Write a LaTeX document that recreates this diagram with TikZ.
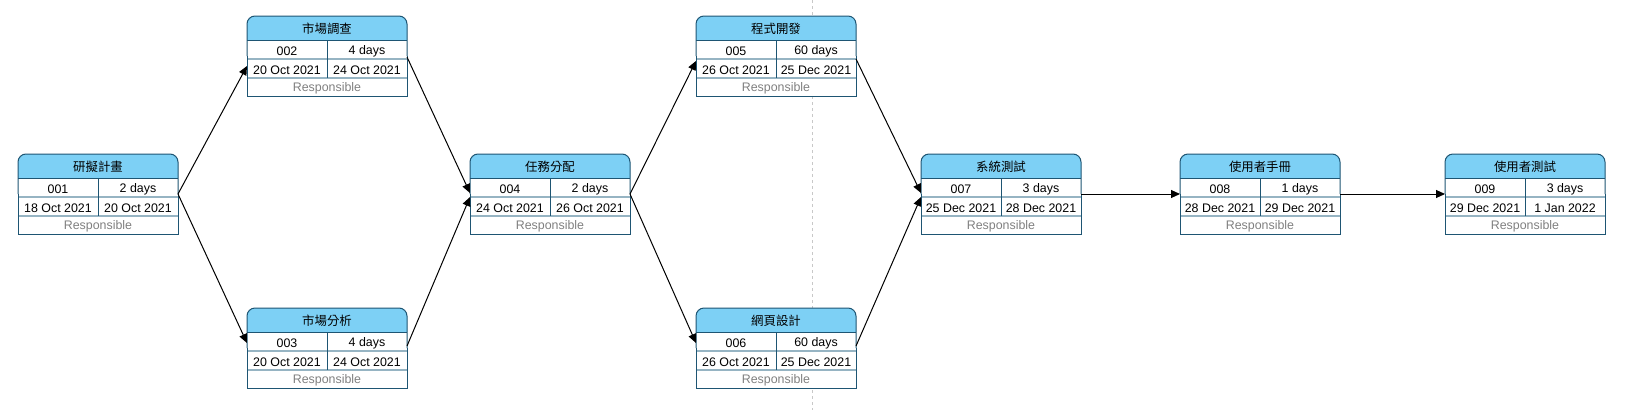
\documentclass[tikz,border=0pt]{standalone}
\usepackage{fontspec}
\setmainfont{Liberation Sans}
\newfontfamily\cjk{Noto Sans CJK TC}
\usetikzlibrary{calc,arrows.meta}
\definecolor{hdr}{RGB}{125,208,245}
\definecolor{bord}{RGB}{30,85,115}
\definecolor{sepc}{RGB}{150,180,195}
\definecolor{respc}{RGB}{128,128,128}
\definecolor{dashc}{RGB}{200,200,200}
\tikzset{
  boxanchor/.style={minimum width=160pt, minimum height=80pt, inner sep=0pt, outer sep=0pt},
  txt/.style={inner sep=0pt, font=\fontsize{12.4}{14}\selectfont},
  resptxt/.style={txt, text=respc},
  bline/.style={draw=bord, line width=1pt},
  sline/.style={draw=sepc, line width=1.2pt},
  conn/.style={draw=black, line width=1pt, -{Triangle[length=9pt,width=8pt]}},
  divider/.style={draw=dashc, line width=1pt, dash pattern=on 3pt off 3pt}
}
\newcommand{\pertbox}[8]{%
\begin{scope}[shift={(#2,#3)}]
  \node[boxanchor] (#1) at (80,40) {};
  \fill[white, rounded corners=8pt] (0,80) -- (0,0) -- (160,0) -- (160,80);
  \fill[hdr, rounded corners=8pt] (0,24) -- (0,0) -- (160,0) -- (160,24);
  \draw[sline] (0,43) -- (160,43) (0,62) -- (160,62);
  \draw[bline] (80,24) -- (80,62);
  \draw[bline] (0,24) -- (160,24);
  \draw[bline, rounded corners=8pt] (0,40) -- (0,0) -- (160,0) -- (160,40);
  \draw[bline] (0,40) -- (0,80) -- (160,80) -- (160,40);
  \node[txt] (#1-title) at (80,13) {\cjk #4};
  \node[txt] (#1-id) at (40,35) {#5};
  \node[txt] (#1-dur) at (120,35) {#6};
  \node[txt] (#1-start) at (40,54) {#7};
  \node[txt] (#1-end) at (120,54) {#8};
  \node[resptxt] (#1-resp) at (80,72.5) {Responsible};
\end{scope}}
\begin{document}
\begin{tikzpicture}[x=1pt, y=-1pt]
\useasboundingbox (0,0) rectangle (1628,410);
\draw[divider] (812,0) -- (812,410);
\pertbox{n1}{18}{154}{研擬計畫}{001}{2 days}{18 Oct 2021}{20 Oct 2021}
\pertbox{n2}{247}{16}{市場調查}{002}{4 days}{20 Oct 2021}{24 Oct 2021}
\pertbox{n3}{247}{308}{市場分析}{003}{4 days}{20 Oct 2021}{24 Oct 2021}
\pertbox{n4}{470}{154}{任務分配}{004}{2 days}{24 Oct 2021}{26 Oct 2021}
\pertbox{n5}{696}{16}{程式開發}{005}{60 days}{26 Oct 2021}{25 Dec 2021}
\pertbox{n6}{696}{308}{網頁設計}{006}{60 days}{26 Oct 2021}{25 Dec 2021}
\pertbox{n7}{921}{154}{系統測試}{007}{3 days}{25 Dec 2021}{28 Dec 2021}
\pertbox{n8}{1180}{154}{使用者手冊}{008}{1 days}{28 Dec 2021}{29 Dec 2021}
\pertbox{n9}{1445}{154}{使用者測試}{009}{3 days}{29 Dec 2021}{1 Jan 2022}
\draw[conn] (n1.east) -- ($(n2.north west)+(0,50)$);
\draw[conn] (n1.east) -- ($(n3.north west)+(0,35)$);
\draw[conn] ($(n2.east)+(0,1)$) -- ($(n4.west)+(0,-1)$);
\draw[conn] ($(n3.east)+(0,-2)$) -- ($(n4.west)+(0,3)$);
\draw[conn] (n4.east) -- ($(n5.north west)+(0,45)$);
\draw[conn] (n4.east) -- ($(n6.north west)+(0,35)$);
\draw[conn] ($(n5.east)+(0,3)$) -- ($(n7.west)+(0,-1)$);
\draw[conn] ($(n6.east)+(0,-2)$) -- ($(n7.west)+(0,3)$);
\draw[conn] (n7.east) -- (n8.west);
\draw[conn] (n8.east) -- (n9.west);
\end{tikzpicture}
\end{document}
